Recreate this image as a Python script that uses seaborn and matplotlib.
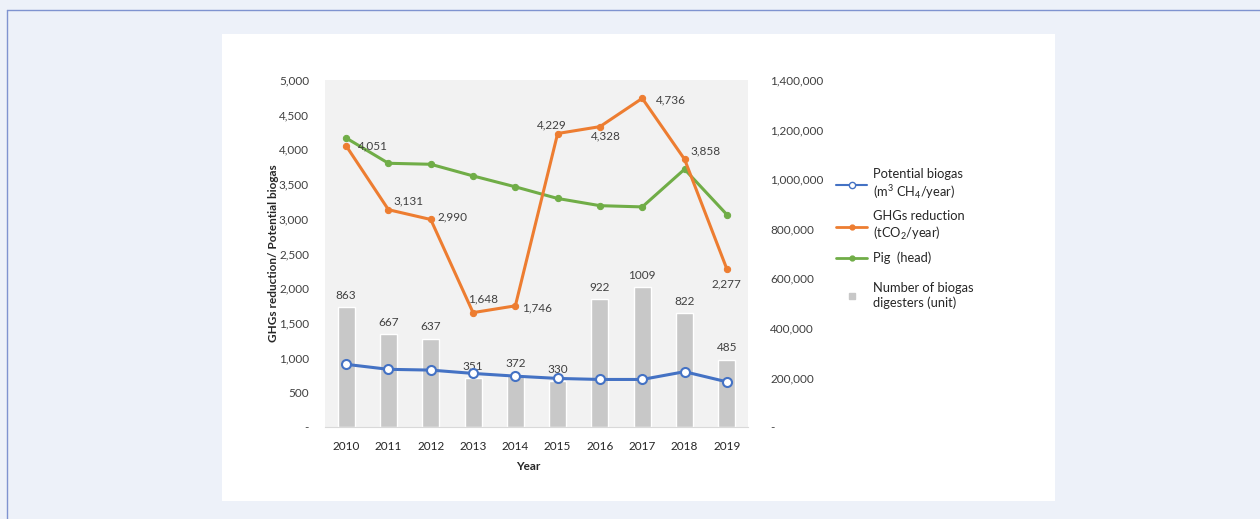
import numpy as np
import pandas as pd
import seaborn as sns
import matplotlib.pyplot as plt
from matplotlib.lines import Line2D
from matplotlib.patches import Rectangle
from matplotlib.ticker import FuncFormatter

years = [2010, 2011, 2012, 2013, 2014, 2015, 2016, 2017, 2018, 2019]
digesters = [863, 667, 637, 351, 372, 330, 922, 1009, 822, 485]
potential_biogas = [903, 831, 820, 772, 733, 700, 685, 685, 797, 651]
ghg_reduction = [4051, 3131, 2990, 1648, 1746, 4229, 4328, 4736, 3858, 2277]
pig_heads = [1166000, 1064000, 1060000, 1013000, 969000, 922000, 893000, 888000, 1040000, 857000]

# where each GHG value label sits relative to its point (points, ha)
ghg_offsets = [(8.5, 0, 'left'), (3.5, 6, 'left'), (4.5, 1.5, 'left'), (7, 10, 'center'),
               (5, -1.5, 'left'), (-4.5, 6.5, 'center'), (4.5, -6.5, 'center'),
               (9.5, -1, 'left'), (4.5, 6, 'left'), (0, -10.5, 'center')]

df = pd.DataFrame({"year": years, "digesters": digesters, "biogas": potential_biogas,
                   "ghg": ghg_reduction, "pig": pig_heads})

BLUE, ORANGE, GREEN, GREY = "#4472C4", "#ED7D31", "#70AD47", "#c8c8c8"
TXT = "#404040"
FS = 8.5
LEG_FS = 9.3

sns.set_style("white")
plt.rcParams['font.family'] = ['Lato', 'DejaVu Sans']
plt.rcParams['mathtext.fontset'] = 'custom'
plt.rcParams['mathtext.rm'] = 'Lato'
plt.rcParams['mathtext.it'] = 'Lato:italic'
plt.rcParams['mathtext.bf'] = 'Lato:bold'

fig = plt.figure(figsize=(12.6, 5.19), dpi=100)
fig.patch.set_facecolor("#edf1f9")
# page frame + white chart panel
fig.add_artist(Line2D([7/1260, 7/1260], [0, 1 - 10/519], transform=fig.transFigure, color="#7f93d0", lw=1, zorder=-2))
fig.add_artist(Line2D([7/1260, 1], [1 - 10/519, 1 - 10/519], transform=fig.transFigure, color="#7f93d0", lw=1, zorder=-2))
fig.add_artist(Rectangle((222/1260, 18/519), 833/1260, 467/519, transform=fig.transFigure,
                         facecolor="white", edgecolor="none", zorder=-1))

ax_bar = fig.add_axes([325/1260, 92/519, 423/1260, 347/519])
ax_bar.set_facecolor("#f2f2f2")
sns.barplot(data=df, x="year", y="digesters", native_scale=True, width=0.4,
            color=GREY, saturation=1, ax=ax_bar)
ax_bar.set_ylim(0, 2500)
ax_bar.set_yticks([])
ax_bar.set_ylabel("")
ax_bar.bar_label(ax_bar.containers[0], labels=[str(v) for v in digesters],
                 padding=4.5, fontsize=FS, color=TXT)

ax2 = ax_bar.twinx()
sns.lineplot(data=df, x="year", y="pig", color=GREEN, lw=2.2, marker="o", markersize=4.5,
             markeredgecolor=GREEN, ax=ax2)
ax2.set_ylim(0, 1400000)
ax2.set_yticks(range(0, 1400001, 200000))

ax = ax_bar.twinx()
ax.yaxis.tick_left()
ax.yaxis.set_label_position("left")
sns.lineplot(data=df, x="year", y="ghg", color=ORANGE, lw=2.2, marker="o", markersize=4.5,
             markeredgecolor=ORANGE, ax=ax)
sns.lineplot(data=df, x="year", y="biogas", color=BLUE, lw=2.2, marker="o", markersize=6.5,
             markerfacecolor="white", markeredgecolor=BLUE, markeredgewidth=1.5, ax=ax)
ax.set_ylim(0, 5000)
ax.set_yticks(range(0, 5001, 500))

for yr, v, (dx, dy, ha) in zip(years, ghg_reduction, ghg_offsets):
    ax.annotate(f"{v:,}", (yr, v), xytext=(dx, dy), textcoords="offset points",
                ha=ha, va="center", fontsize=FS, color=TXT)

fmt = FuncFormatter(lambda v, p: "-" if v == 0 else f"{v:,.0f}")
ax.yaxis.set_major_formatter(fmt)
ax2.yaxis.set_major_formatter(fmt)
ax.tick_params(axis="y", length=0, pad=11.5, labelsize=FS, labelcolor=TXT)
ax2.tick_params(axis="y", length=0, pad=16, labelsize=FS, labelcolor=TXT)

ax_bar.set_xlim(2009.5, 2019.5)
ax_bar.set_xticks(years)
ax_bar.set_xticklabels([str(y) for y in years])
ax_bar.tick_params(axis="x", length=0, pad=10, labelsize=FS, labelcolor="#262626")

for a in (ax_bar, ax, ax2):
    for s in a.spines.values():
        s.set_visible(False)
ax_bar.spines["bottom"].set_visible(True)
ax_bar.spines["bottom"].set_color("#d9d9d9")

ax.set_ylabel("GHGs reduction/ Potential biogas", fontsize=FS, fontweight="bold", color="#262626")
ax.yaxis.set_label_coords(-0.109, 0.5)
ax2.set_ylabel("")
ax_bar.set_xlabel("Year", fontsize=FS, fontweight="bold", color="#262626")
ax_bar.xaxis.set_label_coords(0.48, -0.098)

line_handles = [
    Line2D([], [], color=BLUE, lw=1.5, marker="o", markersize=4.5, markerfacecolor="white",
           markeredgecolor=BLUE),
    Line2D([], [], color=ORANGE, lw=2, marker="o", markersize=3.5),
    Line2D([], [], color=GREEN, lw=2, marker="o", markersize=3.5),
]
line_labels = ["Potential biogas\n(m$^3$ CH$_4$/year)", "GHGs reduction\n(tCO$_2$/year)",
               "Pig  (head)"]
leg_kw = dict(loc="upper left", frameon=False, borderpad=0, borderaxespad=0,
              handlelength=2.4, handletextpad=0.45, labelspacing=0.75, fontsize=LEG_FS)
leg1 = fig.legend(line_handles, line_labels, bbox_to_anchor=(836/1260, 1 - 168/519), **leg_kw)
bar_handle = [Line2D([], [], ls="none", marker="s", markersize=5, color=GREY)]
leg2 = fig.legend(bar_handle, ["Number of biogas\ndigesters (unit)"],
                  bbox_to_anchor=(836/1260, 1 - 282/519), **leg_kw)
for lg in (leg1, leg2):
    for t in lg.get_texts():
        t.set_color("#262626")
        t.set_linespacing(1.2)

fig.savefig("out.png", dpi=100, facecolor=fig.get_facecolor())
